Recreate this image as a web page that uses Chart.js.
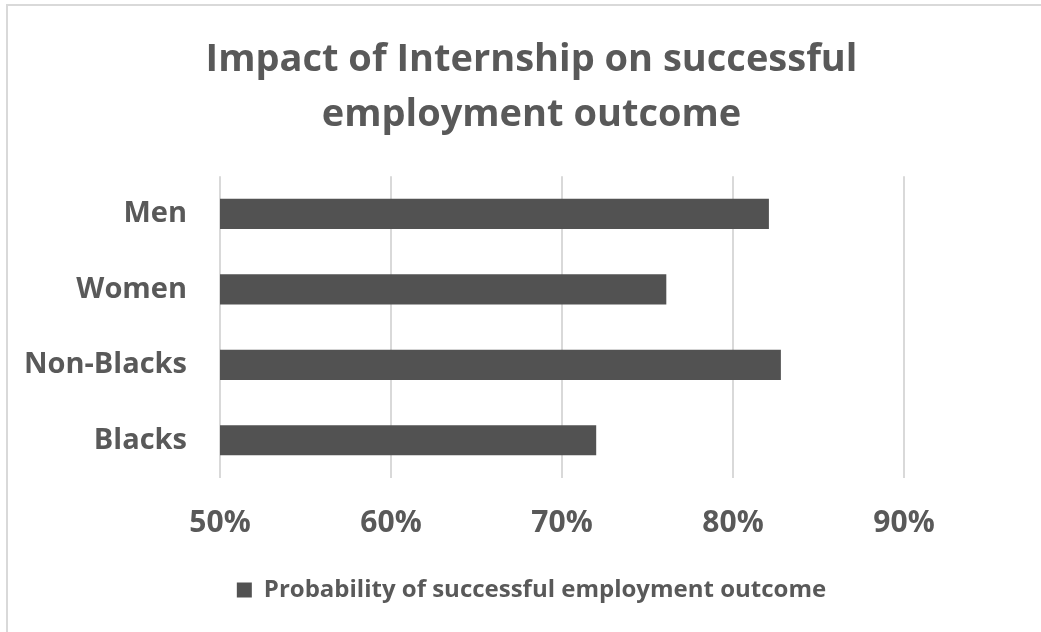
<!DOCTYPE html>
<html>
<head>
<meta charset="utf-8">
<script src="https://cdn.jsdelivr.net/npm/chart.js@4"></script>
<style>
  html, body { margin: 0; padding: 0; background: #fff; }
  .wrap { position: absolute; left: 0; top: 0; width: 1041px; height: 632px; }
  .frame { position: absolute; left: 6px; top: 4px; width: 1100px; height: 700px;
           border-top: 2px solid #d9d9d9; border-left: 2px solid #d9d9d9; }
</style>
</head>
<body>
<div class="frame"></div>
<div class="wrap"><canvas id="myChart" width="1041" height="632"></canvas></div>
<script>
const categories = ['Men', 'Women', 'Non-Blacks', 'Blacks']
const probability = [0.821, 0.761, 0.828, 0.720]
const tickValues = [0.5, 0.6, 0.7, 0.8, 0.9]

const textColor = '#595959'
const fontFamily = "'Open Sans', sans-serif"

// plot runs from x=220 to near the right edge; 10% = 171px
const plotLeft = 220
const axisMax = 0.5 + (1041 - plotLeft) / 1710

const ctx = document.getElementById('myChart').getContext('2d')
const barChart = new Chart(ctx, {
  type: 'bar',
  data: {
    labels: categories,
    datasets: [{
      label: 'Probability of successful employment outcome',
      data: probability,
      backgroundColor: '#525252',
      borderWidth: 0,
      categoryPercentage: 1,
      barPercentage: 0.4
    }]
  },
  options: {
    indexAxis: 'y',
    responsive: false,
    animation: false,
    layout: { padding: { left: 22, right: 0, top: 0, bottom: 20 } },
    plugins: {
      title: {
        display: true,
        text: ['Impact of Internship on successful', 'employment outcome'],
        color: textColor,
        font: { family: fontFamily, size: 38, weight: 'bold', lineHeight: 1.45 },
        padding: { top: 33, bottom: 33 }
      },
      legend: {
        position: 'bottom',
        labels: {
          color: textColor,
          boxWidth: 15,
          boxHeight: 15,
          padding: 10,
          font: { family: fontFamily, size: 24, weight: 'bold' }
        }
      },
      tooltip: { enabled: false }
    },
    scales: {
      x: {
        min: 0.5,
        max: axisMax,
        afterBuildTicks: axis => { axis.ticks = tickValues.map(v => ({ value: v })) },
        grid: { color: '#d9d9d9', lineWidth: 2, drawTicks: false },
        border: { display: false },
        ticks: {
          color: textColor,
          padding: 27,
          font: { family: fontFamily, size: 30, weight: 'bold' },
          callback: v => Math.round(v * 100) + '%'
        }
      },
      y: {
        afterFit: axis => { axis.width = plotLeft - 22 },
        grid: { display: false, drawTicks: false },
        border: { display: false },
        ticks: {
          color: textColor,
          padding: 33,
          font: { family: fontFamily, size: 29, weight: 'bold' }
        }
      }
    }
  }
})
</script>
</body>
</html>
